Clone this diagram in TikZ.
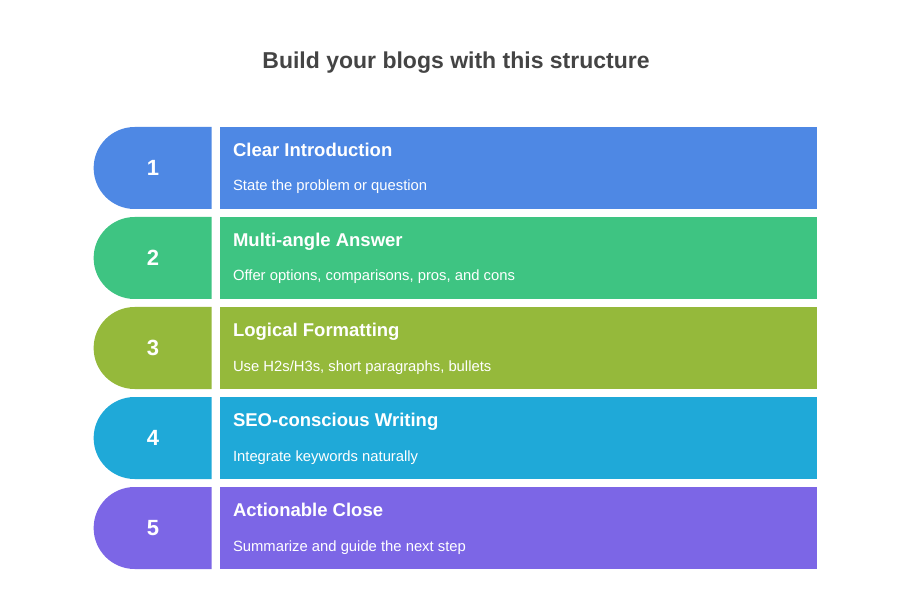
\documentclass[tikz,border=0pt]{standalone}
\usepackage{fontspec}
\setmainfont{Liberation Sans}
\usetikzlibrary{positioning,shapes.misc}
\definecolor{stepA}{HTML}{4E88E4}
\definecolor{stepB}{HTML}{3EC482}
\definecolor{stepC}{HTML}{95B93B}
\definecolor{stepD}{HTML}{1FA9D8}
\definecolor{stepE}{HTML}{7C66E6}
\definecolor{titlegray}{HTML}{444444}

\begin{document}
\begin{tikzpicture}[
      x=1pt,y=1pt,
      tab/.style={rounded rectangle,rounded rectangle right arc=none,
        minimum width=118pt,minimum height=82pt,inner sep=0pt,
        text=white,font=\bfseries\fontsize{22}{26}\selectfont},
      bar/.style={rectangle,minimum width=597pt,minimum height=82pt,inner sep=0pt},
      head/.style={text=white,font=\bfseries\fontsize{18.5}{22}\selectfont,anchor=base west,inner sep=0pt},
      sub/.style={text=white,font=\fontsize{14.8}{18}\selectfont,anchor=base west,inner sep=0pt}
    ]
    \useasboundingbox (0,0) rectangle (912,600);

    % title
    \node[text=titlegray,font=\bfseries\fontsize{23}{28}\selectfont] (title) at (456,537) {Build your blogs with this structure};

    % the steps
    \foreach \i/\col/\hd/\tx in {
        1/stepA/Clear Introduction/State the problem or question,
        2/stepB/Multi-angle Answer/{Offer options, comparisons, pros, and cons},
        3/stepC/Logical Formatting/{Use H2s/H3s, short paragraphs, bullets},
        4/stepD/SEO-conscious Writing/Integrate keywords naturally,
        5/stepE/Actionable Close/Summarize and guide the next step}{
      \node[tab,fill=\col] (tab\i) at (153,{600-168-90*(\i-1)}) {\i};
      \node[bar,fill=\col,right=8pt of tab\i] (bar\i) {};
      \node[head] (head\i) at ([xshift=13pt,yshift=11.5pt]bar\i.west) {\hd};
      \node[sub] (sub\i) at ([xshift=13pt,yshift=-23pt]bar\i.west) {\tx};
    }
    \end{tikzpicture}
\end{document}
